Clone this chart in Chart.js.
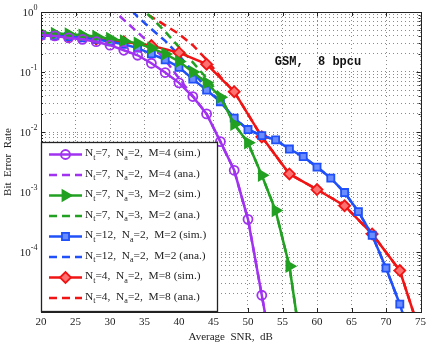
<!DOCTYPE html>
<html><head><meta charset="utf-8">
<script src="https://cdn.jsdelivr.net/npm/chart.js@4.4.1/dist/chart.umd.min.js"></script>
<style>html,body{margin:0;padding:0;background:#fff;}canvas{display:block;}</style>
</head><body>
<canvas id="c" width="430" height="346"></canvas>
<script>
// ---- data ----
const xTicks = [20,25,30,35,40,45,50,55,60,65,70,75];
const yDecades = [1,0.1,0.01,0.001,0.0001];
const yDecadeExp = ['0','-1','-2','-3','-4'];
const yGridDecades = [1e-5,1e-4,1e-3,1e-2,1e-1];
const yGridMultipliers = [1,2,3,4,5,6,7,8,9];

const purpleSimSNR = [20,22,24,26,28,30,32,34,36,38,40,42,44,46,48,50,52,54];
const purpleSimBER = [0.41,0.40,0.37,0.35,0.32,0.28,0.23,0.19,0.14,0.098,0.066,0.039,0.020,0.0069,0.0023,3.5e-4,1.9e-5,1e-6];
const purpleAnaSNR = [30,32,34,36,38,40,42,44,46,48,50,52,54];
const purpleAnaBER = [1.2,0.74,0.46,0.28,0.16,0.078,0.040,0.020,0.0069,0.0023,3.5e-4,1.9e-5,1e-6];

const greenSimSNR = [20,22,24,26,28,30,32,34,36,38,40,42,44,46,48,50,52,54,56,58];
const greenSimBER = [0.45,0.44,0.43,0.41,0.39,0.36,0.33,0.30,0.25,0.20,0.15,0.10,0.066,0.038,0.0135,0.0066,0.0019,4.9e-4,5.8e-5,1.6e-6];
const greenAnaSNR = [34,36,38,40,42,44,46,48,50,52,54,56,58];
const greenAnaBER = [1.3,0.81,0.47,0.26,0.145,0.079,0.040,0.0135,0.0066,0.0019,4.9e-4,5.8e-5,1.6e-6];

const blueSimSNR = [20,22,24,26,28,30,32,34,36,38,40,42,44,46,48,50,52,54,56,58,60,62,64,66,68,70,72,74];
const blueSimBER = [0.41,0.40,0.39,0.37,0.35,0.32,0.29,0.25,0.20,0.16,0.12,0.076,0.050,0.032,0.017,0.011,0.0087,0.0074,0.0052,0.0039,0.0026,0.0017,9.8e-4,4.7e-4,1.9e-4,5.4e-5,1.35e-5,2.5e-6];
const blueAnaSNR = [32,34,36,38,40,42,44,46,48,50,52,54,56,58,60,62,64,66,68,70,72,74];
const blueAnaBER = [1.5,0.83,0.52,0.33,0.19,0.10,0.054,0.032,0.017,0.011,0.0087,0.0074,0.0052,0.0039,0.0026,0.0017,9.8e-4,4.7e-4,1.9e-4,5.4e-5,1.35e-5,2.5e-6];

const redSimSNR = [20,24,28,32,36,40,44,48,52,56,60,64,68,72,76];
const redSimBER = [0.41,0.39,0.355,0.32,0.275,0.21,0.135,0.047,0.0083,0.0020,0.0011,5.9e-4,2.0e-4,4.9e-5,1.9e-6];
const redAnaSNR = [34,36,38,40,42,44,46,48,52,56,60,64,68,72,76];
const redAnaBER = [1.2,0.83,0.60,0.43,0.28,0.16,0.083,0.047,0.0083,0.0020,0.0011,5.9e-4,2.0e-4,4.9e-5,1.9e-6];

const legendLabels = [
  'N_t=7,  N_a=2,  M=4 (sim.)',
  'N_t=7,  N_a=2,  M=4 (ana.)',
  'N_t=7,  N_a=3,  M=2 (sim.)',
  'N_t=7,  N_a=3,  M=2 (ana.)',
  'N_t=12,  N_a=2,  M=2 (sim.)',
  'N_t=12,  N_a=2,  M=2 (ana.)',
  'N_t=4,  N_a=2,  M=8 (sim.)',
  'N_t=4,  N_a=2,  M=8 (ana.)'
];
const annotationText = 'GSM,  8 bpcu';

// ---- styles ----
const PURPLE = '#A032F0', GREEN = '#22A022', BLUE = '#2050F8', RED = '#F01414';
const pts = (xs, ys) => xs.map((x, i) => ({x, y: ys[i]}));

function simSet(label, xs, ys, color, style, radius, bg, rot) {
  return {label, data: pts(xs, ys), borderColor: color, borderWidth: 2.5,
    pointStyle: style, pointRadius: radius, pointBorderColor: color, pointBorderWidth: 1.8,
    pointBackgroundColor: bg, pointRotation: rot || 0, tension: 0, order: 1};
}
function anaSet(label, xs, ys, color) {
  return {label, data: pts(xs, ys), borderColor: color, borderWidth: 2.5, borderDash: [8, 5],
    pointRadius: 0, tension: 0, order: 2};
}
const datasets = [
  simSet(legendLabels[0], purpleSimSNR, purpleSimBER, PURPLE, 'circle', 4.5, 'rgba(0,0,0,0)'),
  anaSet(legendLabels[1], purpleAnaSNR, purpleAnaBER, PURPLE),
  simSet(legendLabels[2], greenSimSNR, greenSimBER, GREEN, 'triangle', 6, GREEN, 90),
  anaSet(legendLabels[3], greenAnaSNR, greenAnaBER, GREEN),
  simSet(legendLabels[4], blueSimSNR, blueSimBER, BLUE, 'rect', 5, '#6a8cff'),
  anaSet(legendLabels[5], blueAnaSNR, blueAnaBER, BLUE),
  simSet(legendLabels[6], redSimSNR, redSimBER, RED, 'rectRot', 5.5, '#ff7070'),
  anaSet(legendLabels[7], redAnaSNR, redAnaBER, RED)
];

const SERIF = '"Liberation Serif", "Times New Roman", serif';

function drawRich(ctx, x, y, str) {
  const parts = str.split(/(_.)/);
  for (const p of parts) {
    if (!p) continue;
    const sub = p[0] === '_';
    const t = sub ? p.slice(1) : p;
    ctx.font = sub ? '8px ' + SERIF : '11.4px ' + SERIF;
    ctx.fillText(t, x, y + (sub ? 4 : 0));
    x += ctx.measureText(t).width;
  }
}

const overlay = {
  id: 'overlay',
  afterDraw(chart) {
    const {ctx, chartArea: a, scales: {x, y}} = chart;
    ctx.save();
    // inner tick marks
    ctx.strokeStyle = '#222'; ctx.lineWidth = 1;
    ctx.beginPath();
    for (const v of xTicks) {
      const px = Math.round(x.getPixelForValue(v)) + 0.5;
      ctx.moveTo(px, a.bottom); ctx.lineTo(px, a.bottom - 4);
      ctx.moveTo(px, a.top); ctx.lineTo(px, a.top + 4);
    }
    for (const t of y.ticks) {
      const py = Math.round(y.getPixelForValue(t.value)) + 0.5;
      const major = yDecades.includes(t.value) || t.value === 1e-5;
      const L = major ? 4 : 2;
      ctx.moveTo(a.left, py); ctx.lineTo(a.left + L, py);
      ctx.moveTo(a.right, py); ctx.lineTo(a.right - L, py);
    }
    ctx.stroke();
    // frame
    ctx.strokeRect(Math.round(a.left) + 0.5, Math.round(a.top) + 0.5, Math.round(a.right - a.left), Math.round(a.bottom - a.top));
    // y tick labels (10^n)
    ctx.fillStyle = '#222';
    yDecades.forEach((v, i) => {
      const py = y.getPixelForValue(v);
      ctx.font = '8px ' + SERIF;
      const ew = ctx.measureText(yDecadeExp[i]).width;
      const right = 37.5;
      ctx.textBaseline = 'middle'; ctx.textAlign = 'right';
      ctx.font = '11px ' + SERIF;
      ctx.fillText('10', right - ew, py + 1);
      ctx.textAlign = 'left';
      ctx.font = '8px ' + SERIF;
      ctx.fillText(yDecadeExp[i], right - ew, py - 4);
    });
    // annotation
    ctx.font = 'bold 12px "Liberation Mono", "Courier New", monospace';
    ctx.textAlign = 'center'; ctx.textBaseline = 'middle';
    ctx.fillStyle = '#111';
    ctx.fillText(annotationText, 318, 62);
    // legend box
    const bx = 41.5, by = 142.5, bw = 176, bh = 169;
    ctx.fillStyle = '#fff';
    ctx.fillRect(bx, by, bw, bh);
    ctx.strokeStyle = '#222'; ctx.lineWidth = 1.3;
    ctx.strokeRect(bx, by, bw, bh);
    datasets.forEach((ds, i) => {
      const ry = 154.5 + i * 20.5;
      ctx.save();
      ctx.strokeStyle = ds.borderColor; ctx.lineWidth = 2.5;
      ctx.setLineDash(ds.borderDash || []);
      ctx.beginPath(); ctx.moveTo(49, ry); ctx.lineTo(82, ry); ctx.stroke();
      ctx.setLineDash([]);
      if (ds.pointRadius) {
        ctx.fillStyle = ds.pointBackgroundColor; ctx.strokeStyle = ds.pointBorderColor;
        ctx.lineWidth = ds.pointBorderWidth;
        Chart.helpers.drawPoint(ctx, {pointStyle: ds.pointStyle, radius: ds.pointRadius,
          rotation: ds.pointRotation, borderWidth: ds.pointBorderWidth}, 65.5, ry);
      }
      ctx.restore();
      ctx.fillStyle = '#222'; ctx.textAlign = 'left'; ctx.textBaseline = 'middle';
      drawRich(ctx, 85, ry - 1, ds.label);
    });
    ctx.restore();
  }
};

new Chart(document.getElementById('c'), {
  type: 'line',
  data: {datasets},
  options: {
    responsive: false, animation: false, devicePixelRatio: 1,
    layout: {padding: {left: 0, right: 8, top: 12, bottom: 0}},
    plugins: {legend: {display: false}, tooltip: {enabled: false}},
    scales: {
      x: {
        type: 'linear', min: 20, max: 75,
        afterBuildTicks: s => { s.ticks = xTicks.map(v => ({value: v})); },
        ticks: {font: {family: 'Liberation Serif', size: 11}, color: '#222', padding: 4, maxRotation: 0},
        grid: {color: '#8a8a8a', lineWidth: 1, drawTicks: false},
        border: {display: false, dash: [1, 3]},
        title: {display: true, text: 'Average  SNR,  dB', color: '#222',
          font: {family: 'Liberation Serif', size: 11}, padding: {top: 0, bottom: 2}},
        afterFit: s => { s.height = 34; }
      },
      y: {
        type: 'logarithmic', min: 1e-5, max: 1,
        afterBuildTicks: s => {
          const t = [];
          yGridDecades.forEach(d => yGridMultipliers.forEach(k => t.push({value: +(d * k).toPrecision(3)})));
          t.push({value: 1});
          s.ticks = t;
        },
        ticks: {display: false},
        grid: {color: '#8a8a8a', lineWidth: 1, drawTicks: false},
        border: {display: false, dash: [1, 3]},
        title: {display: true, text: 'Bit  Error  Rate', color: '#222',
          font: {family: 'Liberation Serif', size: 11}, padding: {top: 2, bottom: 0}},
        afterFit: s => { s.width = 41; }
      }
    }
  },
  plugins: [overlay]
});
</script>
</body></html>
